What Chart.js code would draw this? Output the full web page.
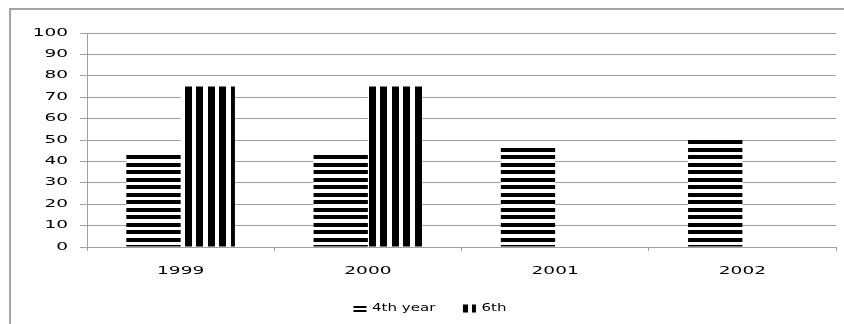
<!DOCTYPE html>
<html>
<head>
<meta charset="utf-8">
<script src="https://cdn.jsdelivr.net/npm/chart.js@4/dist/chart.umd.min.js"></script>
<style>
  html, body { margin: 0; padding: 0; background: #fff; overflow: hidden; }
  #wrap { position: relative; width: 844px; height: 324px; overflow: hidden; }
  #frame { position: absolute; left: 9px; top: 8px; width: 900px; height: 400px;
           border-left: 2px solid #a3a3a3; border-top: 2px solid #a3a3a3; }
  #c { position: absolute; left: 0; top: 0; }
</style>
</head>
<body>
<div id="wrap">
  <div id="frame"></div>
  <canvas id="c" width="844" height="324"></canvas>
</div>
<script>
// Data
const categories = ['1999', '2000', '2001', '2002'];
const fourthYear = [43, 43, 46.5, 50];
const sixth = [75, 75, null, null];
const seriesNames = ['4th year', '6th'];
const yTicks = { min: 0, max: 100, step: 10 };

const canvas = document.getElementById('c');
const ctx = canvas.getContext('2d');

// Wide lettering: text at these sizes is drawn horizontally stretched
const STRETCH = { 10: 1.85, 11: 1.37 };
function stretchOf(g) {
  const m = /(\d+(?:\.\d+)?)px/.exec(g.font);
  return m ? (STRETCH[Math.round(parseFloat(m[1]))] || 1) : 1;
}
const baseFill = CanvasRenderingContext2D.prototype.fillText;
const baseMeasure = CanvasRenderingContext2D.prototype.measureText;
ctx.fillText = function (text, x, y, maxWidth) {
  const s = stretchOf(this);
  this.save();
  this.translate(x, y);
  this.scale(s, 1);
  if (maxWidth === undefined) baseFill.call(this, text, 0, 0);
  else baseFill.call(this, text, 0, 0, maxWidth / s);
  this.restore();
};
ctx.measureText = function (text) {
  const m = baseMeasure.call(this, text);
  const s = stretchOf(this);
  return {
    width: m.width * s,
    actualBoundingBoxLeft: m.actualBoundingBoxLeft * s,
    actualBoundingBoxRight: m.actualBoundingBoxRight * s,
    actualBoundingBoxAscent: m.actualBoundingBoxAscent,
    actualBoundingBoxDescent: m.actualBoundingBoxDescent,
    fontBoundingBoxAscent: m.fontBoundingBoxAscent,
    fontBoundingBoxDescent: m.fontBoundingBoxDescent
  };
};

// Striped fills
function stripePattern(w, h, rects, dx, dy) {
  const tile = document.createElement('canvas');
  tile.width = w; tile.height = h;
  const g = tile.getContext('2d');
  g.fillStyle = '#fff';
  g.fillRect(0, 0, w, h);
  g.fillStyle = '#000';
  rects.forEach(r => g.fillRect(r[0], r[1], r[2], r[3]));
  const p = ctx.createPattern(tile, 'repeat');
  p.setTransform(new DOMMatrix().translate(dx, dy));
  return p;
}
const horizontalStripes = stripePattern(8, 15, [[0, 0, 8, 4], [0, 8, 8, 4]], 0, 5);
const verticalStripes = stripePattern(23, 8, [[0, 0, 7, 8], [11, 0, 7, 8]], 1, 0);
// Finer swatches for the legend keys
const legendFills = [
  stripePattern(8, 4, [[0, 0, 8, 2]], 0, 2),
  verticalStripes
];

const gridGray = '#a0a0a0';
const tickFont = { family: 'DejaVu Sans', size: 10 };

new Chart(ctx, {
  type: 'bar',
  data: {
    labels: categories,
    datasets: [
      { label: seriesNames[0], data: fourthYear, backgroundColor: horizontalStripes, borderWidth: 0,
        categoryPercentage: 0.58, barPercentage: 1 },
      { label: seriesNames[1], data: sixth, backgroundColor: verticalStripes, borderWidth: 0,
        categoryPercentage: 0.58, barPercentage: 1 }
    ]
  },
  options: {
    responsive: false,
    animation: false,
    devicePixelRatio: 1,
    layout: { padding: { left: 24, right: 8, top: 33, bottom: 0 } },
    plugins: {
      tooltip: { enabled: false },
      legend: {
        position: 'bottom',
        labels: {
          font: { family: 'DejaVu Sans', size: 11 },
          color: '#000',
          boxWidth: 13,
          boxHeight: 8,
          padding: 27.5,
          generateLabels: chart => Chart.defaults.plugins.legend.labels.generateLabels(chart)
            .map((item, i) => Object.assign(item, { fillStyle: legendFills[i], lineWidth: 0 }))
        }
      }
    },
    scales: {
      x: {
        grid: { display: true, drawOnChartArea: false, drawTicks: true, tickLength: 4, color: gridGray, offset: true },
        border: { display: true, color: gridGray, width: 1 },
        ticks: { font: tickFont, color: '#000', padding: 14, maxRotation: 0 },
        afterFit: s => { s.height = 28.5; }
      },
      y: {
        min: yTicks.min,
        max: yTicks.max,
        grid: { color: gridGray, lineWidth: 1, tickLength: 7, drawTicks: true },
        border: { display: true, color: gridGray, width: 1 },
        ticks: { stepSize: yTicks.step, font: tickFont, color: '#000', padding: 12 },
        afterFit: s => { s.width = 63; }
      }
    }
  }
});
</script>
</body>
</html>
